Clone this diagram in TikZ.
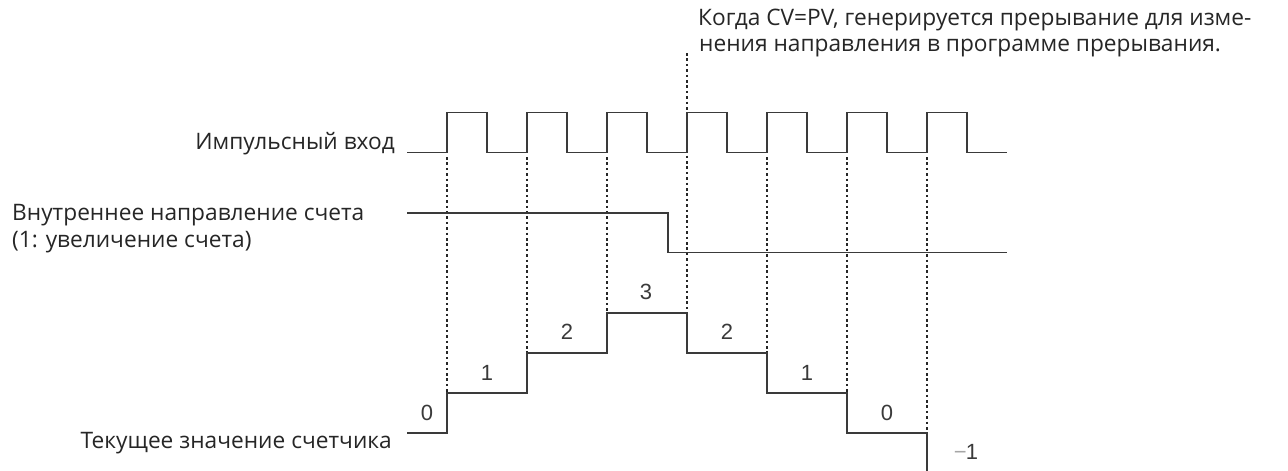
\documentclass[tikz,border=0pt]{standalone}
\usepackage{fontspec}
\setmainfont{Open Sans}
\newfontfamily\numfont{Liberation Sans}
\definecolor{ink}{HTML}{262626}
\definecolor{wavec}{HTML}{3A3A3A}
\begin{document}
\begin{tikzpicture}[x=1pt,y=-1pt,
  wave/.style={draw=wavec, line width=1.4pt},
  guide/.style={draw=ink, line width=1.7pt, dash pattern=on 2.6pt off 2.8pt},
  lbl/.style={font=\fontsize{22.7}{26}\selectfont, text=ink, inner sep=0pt},
  num/.style={font=\numfont\fontsize{22}{24}\selectfont, text=wavec, inner sep=0pt}]
\useasboundingbox (0,0) rectangle (1288,471);

% guides (dotted)
\foreach \x/\yb in {447/393, 527/353, 607/313, 767/353, 847/393, 927/431}{
  \draw[guide] (\x,157) -- (\x,\yb);
}
\draw[guide] (687,53) -- (687,313);

% pulse input
\draw[wave] (407,152.5)
  foreach \i in {0,...,6} { -- ({447+80*\i},152.5) -- ({447+80*\i},112.7) -- ({487+80*\i},112.7) -- ({487+80*\i},152.5) }
  -- (1007,152.5);

% internal direction
\draw[wave] (407,213) -- (668,213) -- (668,252.5) -- (1007,252.5);

% counter value
\draw[wave] (407,433) -- (447,433) -- (447,393) -- (527,393) -- (527,353) -- (607,353)
  -- (607,313) -- (687,313) -- (687,353) -- (767,353) -- (767,393) -- (847,393)
  -- (847,433) -- (927,433) -- (927,471);

% labels
\node[lbl, anchor=base east] (pin) at (395,149) {Импульсный вход};
\node[lbl, anchor=base west] (dir1) at (12,220) {Внутреннее направление счета};
\node[lbl, anchor=base west] (dir2) at (12,247) {(1: увеличение счета)};
\node[lbl, anchor=base east] (cnt) at (392,448) {Текущее значение счетчика};
\node[lbl, anchor=base west] (note1) at (698,25) {Когда CV=PV, генерируется прерывание для изме-};
\node[lbl, anchor=base west] (note2) at (699,51) {нения направления в программе прерывания.};

% counter numbers
\node[num] (n0a) at (427,413) {0};
\node[num] (n1a) at (487,373) {1};
\node[num] (n2a) at (567,332) {2};
\node[num] (n3)  at (646,292) {3};
\node[num] (n2b) at (727,332) {2};
\node[num] (n1b) at (807,373) {1};
\node[num] (n0b) at (887,413) {0};
\node[num] (nm1) at (966,452) {\textcolor{black!35}{−}\kern-1pt 1};
\end{tikzpicture}
\end{document}
